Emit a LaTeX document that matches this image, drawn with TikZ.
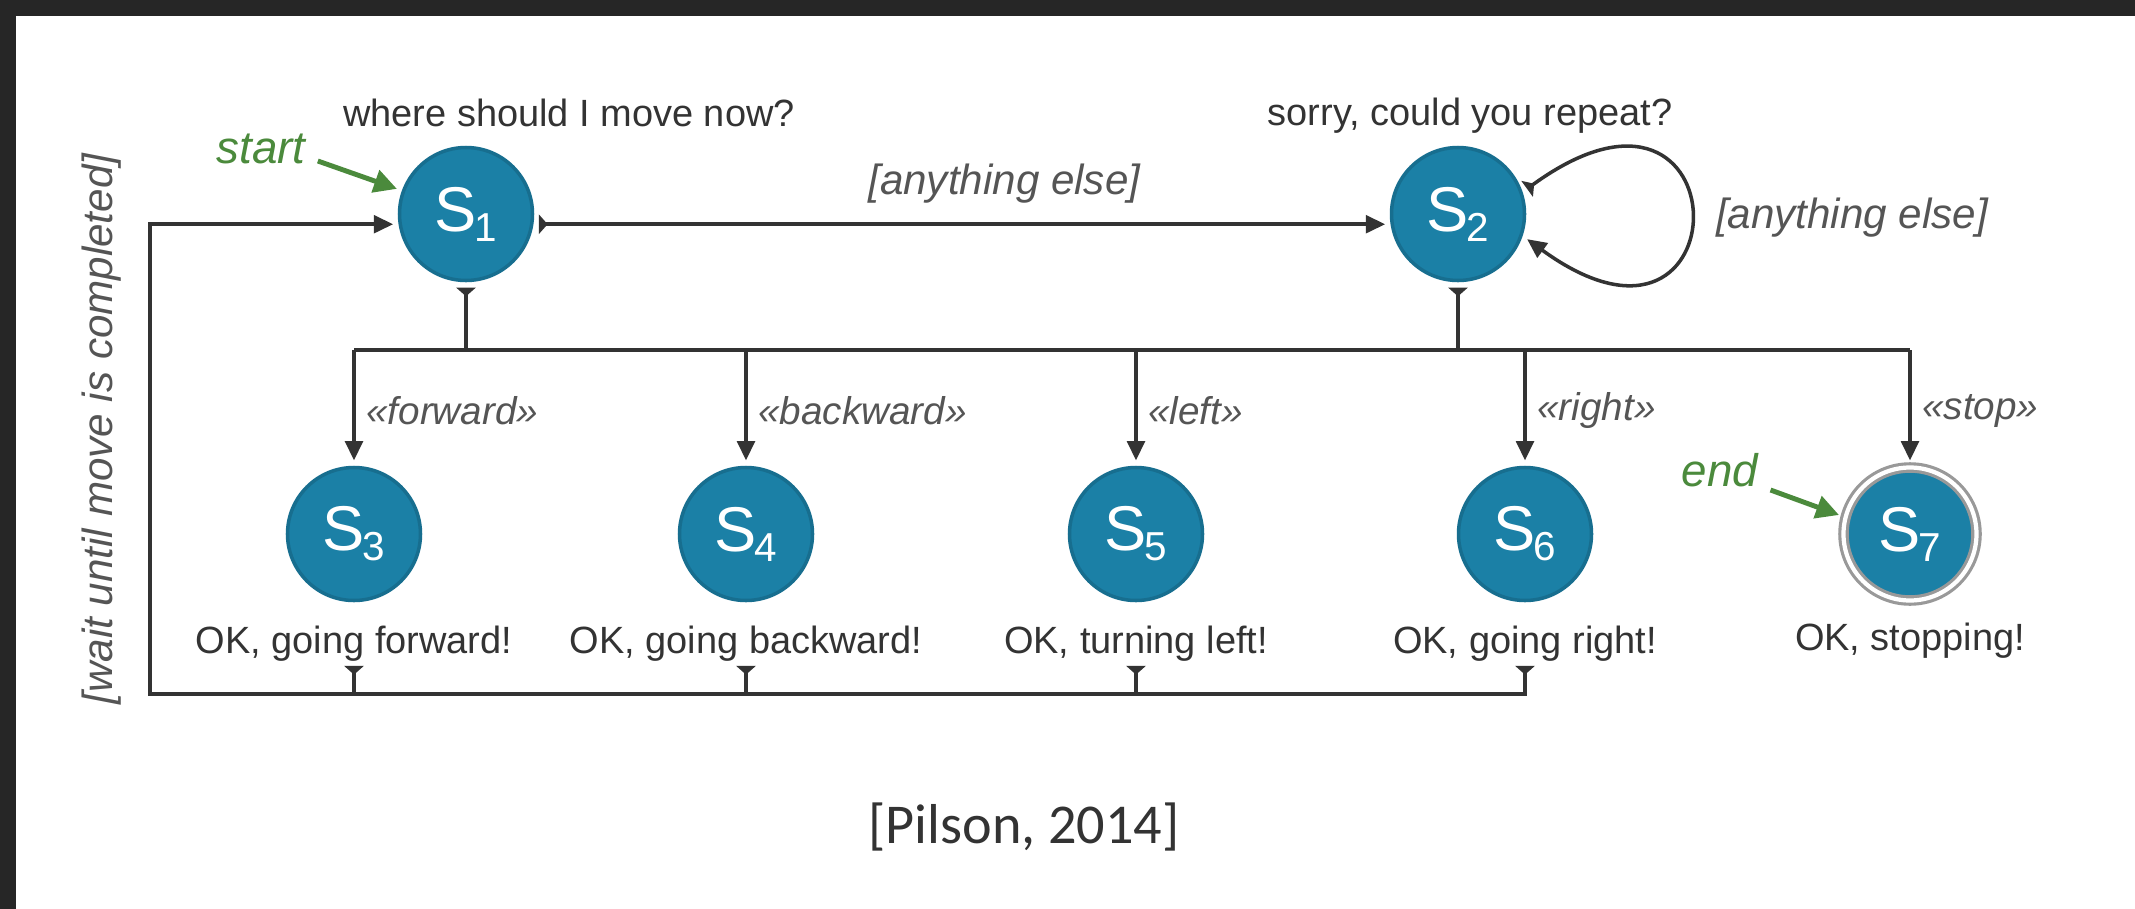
\documentclass[tikz,border=0pt]{standalone}
\usepackage{fontspec}
\setmainfont{Liberation Sans}
\newfontfamily\citefont{Carlito}
\usetikzlibrary{arrows.meta,positioning}
\definecolor{statefill}{HTML}{1B80A6}
\definecolor{stateline}{HTML}{176E8F}
\definecolor{wire}{HTML}{333333}
\definecolor{guardgray}{HTML}{555555}
\definecolor{startgreen}{HTML}{4B8A3C}
\definecolor{frame}{HTML}{262626}
\newcommand{\stnum}[1]{\kern-0.5pt\raisebox{-0.3ex}{\fontsize{11.5}{11.5}\selectfont #1}}
\begin{document}
\begin{tikzpicture}[
  state/.style = {circle, fill=statefill, draw=stateline, line width=1pt,
    minimum size=1.33cm, inner sep=0pt, outer sep=2pt, text=white,
    font=\fontsize{18}{18}\selectfont},
  endstate/.style = {state, draw=gray!80, double=white, double distance=1.2pt,
    line width=0.9pt},
  saytext/.style = {inner sep=0pt, text=wire, font=\fontsize{10.8}{12}\selectfont},
  guard/.style = {text=guardgray, font=\fontsize{12}{14}\selectfont\itshape},
  cmd/.style = {text=guardgray, inner sep=3pt, font=\fontsize{11}{13}\selectfont\itshape},
  note/.style = {text=startgreen, font=\fontsize{13}{15}\selectfont\itshape},
  link/.style = {draw=wire, line width=1pt},
  tee/.style = {link, {Triangle[reversed,length=2.5pt,width=5.5pt]}-},
  flow/.style = {link, {Triangle[reversed,length=2.5pt,width=5.5pt]}-{Triangle[length=5.5pt,width=5pt]}},
  go/.style = {link, -{Triangle[length=5.5pt,width=5pt]}},
  pointer/.style = {draw=startgreen, line width=1.4pt, -{Triangle[length=6.5pt,width=6.5pt]}}]
  \fill[white] (0,0) rectangle (21.35,-9.09);
  \fill[frame] (0,0) rectangle (21.35,-0.16);
  \fill[frame] (0,0) rectangle (0.16,-9.09);
  \useasboundingbox (0,0) rectangle (21.35,-9.09);

  \node[state] (S1) at (4.66,-2.14) {S\stnum{1}};
  \node[state] (S2) at (14.58,-2.14) {S\stnum{2}};
  \node[state] (S3) at (3.54,-5.34) {S\stnum{3}};
  \node[state] (S4) at (7.46,-5.34) {S\stnum{4}};
  \node[state] (S5) at (11.36,-5.34) {S\stnum{5}};
  \node[state] (S6) at (15.25,-5.34) {S\stnum{6}};
  \node[endstate] (S7) at (19.10,-5.34) {S\stnum{7}};

  \node[saytext] (ask) at (5.69,-1.13) {where should I move now?};
  \node[saytext] (repeat) at (14.70,-1.16) {sorry, could you repeat?};
  \node[saytext, below=0.18cm of S3] (say3) {OK, going forward!};
  \node[saytext, below=0.18cm of S4] (say4) {OK, going backward!};
  \node[saytext, below=0.18cm of S5] (say5) {OK, turning left!};
  \node[saytext, below=0.18cm of S6] (say6) {OK, going right!};
  \node[saytext, below=0.15cm of S7] (say7) {OK, stopping!};

  \node[note] (startlbl) at (2.61,-1.49) {start};
  \node[note] (endlbl) at (17.20,-4.70) {end};
  \draw[pointer] ([yshift=-0.12cm]startlbl.east) -- (S1.160);
  \draw[pointer] ([yshift=-0.2cm]endlbl.east) -- (S7.165);

  \draw[flow] (S1.-8) -- node[guard, above=2pt, pos=0.55] (elseA) {[anything else]} (S2.188);
  \draw[flow] (S2.20) .. controls +(36:2.7) and +(-36:2.7) .. (S2.-20);
  \node[guard] (elseB) at (18.52,-2.18) {[anything else]};

  \coordinate (fork) at (3.54,-3.50);
  \draw[link] (fork) -- (S7 |- fork);
  \draw[tee] (S1.south) -- (S1 |- fork);
  \draw[tee] (S2.south) -- (S2 |- fork);
  \draw[go] (S3 |- fork) -- node[cmd, right, pos=0.55] {«forward»} (S3.north);
  \draw[go] (S4 |- fork) -- node[cmd, right, pos=0.55] {«backward»} (S4.north);
  \draw[go] (S5 |- fork) -- node[cmd, right, pos=0.55] {«left»} (S5.north);
  \draw[go] (S6 |- fork) -- node[cmd, right, pos=0.55] {«right»} (S6.north);
  \draw[go] (S7 |- fork) -- node[cmd, right, pos=0.55] {«stop»} (S7.north);

  \coordinate (back) at (1.50,-6.94);
  \draw[tee] ([yshift=-1pt]say3.south) -- (say3.south |- back);
  \draw[tee] ([yshift=-1pt]say4.south) -- (say4.south |- back);
  \draw[tee] ([yshift=-1pt]say5.south) -- (say5.south |- back);
  \draw[flow] ([yshift=-1pt]say6.south) -- (say6.south |- back) -- (back) |- (S1.188);
  \node[guard, rotate=90] (waitlbl) at (1.02,-4.29) {[wait until move is completed]};

  \node[text=wire, font=\citefont\fontsize{16}{18}\selectfont] (cite) at (10.24,-8.27) {[Pilson, 2014]};
\end{tikzpicture}
\end{document}
